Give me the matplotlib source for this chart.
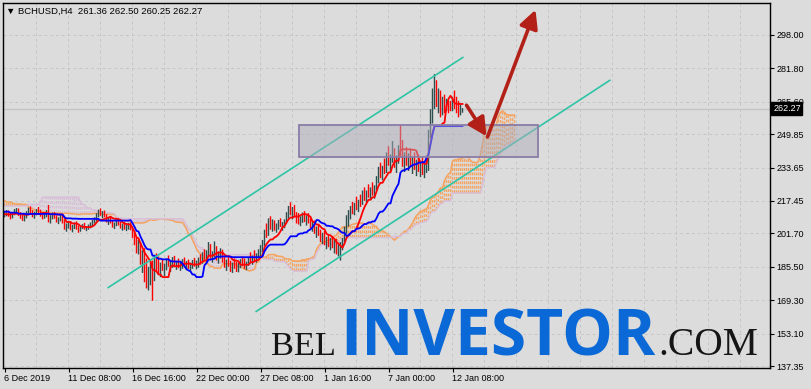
#!/usr/bin/env python
import numpy as np
import pandas as pd
import matplotlib
matplotlib.use('Agg')
from matplotlib import pyplot as plt
from matplotlib.patches import Rectangle, FancyArrowPatch
import matplotlib.transforms as mtransforms

# H4 bars before the visible window (only feed the Ichimoku cloud)
hist_high = [221.0, 217.5, 214.0, 211.5, 209.0, 210.5, 208.0, 206.0, 207.5, 208.5,
             205.5, 203.5, 204.5, 207.0, 210.5, 213.0, 212.5, 210.5, 207.0, 209.5,
             213.5, 216.0, 218.5, 219.0, 217.0, 221.0, 224.0, 221.5, 219.0, 220.5,
             222.0, 219.5, 218.0, 220.0, 222.5, 225.0, 228.0, 230.5, 231.0, 226.5,
             223.0, 224.0, 221.0, 219.0, 220.5, 218.0, 217.0, 218.5, 216.5, 215.5,
             217.0, 215.0, 216.0, 214.5, 216.5, 217.0, 215.0, 213.0, 214.5, 216.0,
             214.0, 212.5, 213.8, 215.0, 213.5, 212.0, 213.5, 214.5, 213.0, 211.5,
             213.0, 214.0, 212.5, 211.8, 213.2, 213.8, 212.5, 211.8]
hist_low = [215.0, 211.5, 208.0, 205.5, 203.5, 205.0, 202.0, 200.5, 202.5, 203.0,
            200.0, 199.5, 199.0, 202.0, 204.5, 207.5, 207.0, 203.5, 200.5, 203.0,
            207.5, 210.5, 212.5, 213.5, 211.0, 214.5, 217.0, 215.0, 213.0, 215.0,
            216.5, 213.5, 212.5, 214.5, 216.5, 219.0, 221.5, 223.0, 221.5, 219.5,
            216.5, 218.0, 214.5, 213.0, 215.0, 212.5, 211.0, 213.0, 211.5, 210.0,
            211.5, 209.5, 211.0, 209.0, 211.0, 212.0, 209.5, 208.0, 209.5, 211.0,
            209.0, 207.5, 208.8, 210.0, 208.5, 207.5, 209.0, 210.0, 208.5, 207.8,
            208.8, 209.5, 208.5, 208.0, 209.0, 209.8, 209.0, 208.5]
hist_close = [216.0, 212.5, 209.5, 207.0, 208.0, 206.0, 203.5, 204.5, 206.5, 204.0,
              201.5, 202.5, 203.5, 206.0, 209.5, 211.0, 208.5, 205.0, 204.0, 208.5,
              212.0, 214.5, 217.0, 214.5, 216.0, 219.5, 218.5, 216.5, 217.5, 219.0,
              217.0, 215.0, 216.5, 218.5, 221.0, 223.5, 226.0, 224.5, 223.0, 220.5,
              221.5, 219.0, 216.0, 217.5, 216.0, 214.0, 215.5, 214.5, 213.0, 214.0,
              212.5, 213.5, 212.0, 213.0, 214.5, 212.5, 210.5, 211.5, 213.5, 211.8,
              210.0, 211.0, 212.5, 211.0, 209.5, 210.8, 212.0, 210.5, 209.0, 210.5,
              211.8, 210.2, 209.5, 210.8, 212.0, 211.0, 210.0, 210.5]

# visible H4 bars, 6 Dec 2019 00:00 onwards
high = [212.5, 213.0, 212.8, 211.5, 211.8, 213.5, 214.0, 213.8, 212.0, 211.0,
        210.5, 212.5, 214.2, 214.8, 213.0, 212.2, 213.5, 214.5, 213.2, 212.0,
        211.5, 213.0, 215.5, 210.5, 211.8, 212.0, 210.5, 209.5, 210.8, 210.2,
        208.5, 206.5, 207.8, 207.5, 205.8, 207.0, 207.5, 205.5, 205.0, 206.2,
        206.8, 205.2, 206.0, 207.0, 208.2, 209.5, 211.5, 213.2, 213.8, 212.5,
        212.8, 211.0, 209.2, 209.8, 208.2, 207.0, 208.5, 209.2, 207.5, 206.2,
        207.2, 205.8, 206.8, 207.0, 205.0, 202.5, 199.8, 198.5, 197.5, 193.5,
        194.5, 189.5, 185.5, 188.0, 188.5, 191.0, 192.0, 190.5, 187.5, 189.0,
        187.0, 189.5, 191.0, 188.5, 190.2, 190.8, 188.5, 189.5, 188.0, 189.2,
        190.0, 188.2, 189.0, 187.5, 188.8, 189.8, 188.5, 190.0, 191.5, 192.5,
        194.0, 193.5, 197.5, 196.5, 193.0, 197.8, 195.5, 193.0, 194.5, 193.8,
        190.5, 189.0, 190.2, 188.5, 187.5, 189.5, 188.0, 187.5, 189.2, 190.5,
        189.5, 188.0, 190.2, 192.5, 191.0, 193.5, 192.0, 194.0, 196.0, 198.5,
        203.5, 206.5, 209.0, 210.0, 208.5, 208.0, 206.5, 208.2, 209.0, 207.2,
        208.5, 212.0, 215.0, 216.8, 214.5, 215.5, 212.0, 211.5, 210.0, 211.8,
        212.5, 210.5, 211.5, 209.0, 207.5, 208.0, 205.0, 206.0, 203.5, 202.0,
        203.0, 200.0, 201.0, 199.5, 200.5, 198.5, 199.0, 196.5, 197.5, 199.5,
        205.0, 210.5, 213.0, 215.0, 217.0, 216.5, 219.5, 218.0, 220.5, 222.5,
        224.0, 222.5, 225.5, 224.0, 226.5, 225.0, 229.5, 234.0, 236.0, 234.5,
        238.0, 241.0, 244.0, 240.0, 246.5, 243.0, 239.5, 244.5, 254.0, 247.0,
        241.0, 243.5, 240.5, 242.5, 239.0, 241.0, 237.5, 240.0, 236.5, 238.5,
        236.0, 239.5, 252.0, 262.0, 272.0, 279.0, 276.0, 272.0, 271.0, 268.0,
        269.0, 267.0, 266.0, 266.0, 268.0, 271.0, 268.0, 266.0, 264.0, 262.50]
low = [209.5, 210.0, 209.8, 208.5, 209.0, 210.5, 211.5, 210.2, 208.8, 207.8,
       207.5, 209.0, 210.8, 211.5, 209.5, 208.8, 210.5, 211.0, 209.8, 208.5,
       208.8, 209.5, 207.0, 206.5, 208.5, 208.8, 207.0, 206.2, 207.5, 206.5,
       203.5, 202.5, 204.0, 203.2, 202.2, 203.8, 203.5, 202.0, 202.5, 203.8,
       203.5, 202.8, 203.5, 204.2, 205.0, 206.5, 207.5, 209.5, 210.2, 209.0,
       209.5, 207.0, 205.8, 206.5, 204.5, 203.8, 205.2, 205.5, 204.0, 203.0,
       203.5, 202.8, 203.5, 203.2, 199.5, 196.0, 192.0, 191.5, 186.5, 182.5,
       178.0, 175.0, 174.0, 176.5, 169.0, 178.5, 183.0, 182.0, 180.5, 183.5,
       181.0, 183.8, 185.5, 183.0, 185.0, 185.5, 184.0, 184.8, 183.5, 184.5,
       185.2, 183.8, 184.5, 183.2, 184.5, 185.5, 184.2, 185.0, 186.5, 187.0,
       189.0, 187.5, 190.5, 189.0, 187.5, 190.0, 188.5, 187.0, 189.5, 187.5,
       185.0, 183.5, 185.5, 183.0, 182.5, 184.5, 183.0, 182.8, 184.8, 185.8,
       184.5, 183.8, 186.0, 187.8, 186.5, 188.0, 187.5, 189.5, 190.5, 192.5,
       195.5, 199.5, 200.5, 203.5, 202.5, 203.0, 202.0, 203.5, 204.8, 203.0,
       204.2, 206.5, 209.0, 210.5, 208.5, 209.5, 206.5, 206.0, 205.2, 206.8,
       207.2, 205.5, 206.5, 204.0, 202.5, 201.5, 199.5, 200.5, 197.5, 196.5,
       196.0, 194.0, 195.0, 193.5, 194.5, 192.0, 191.5, 190.5, 188.5, 193.5,
       197.5, 201.5, 205.0, 208.5, 211.0, 210.5, 213.0, 212.0, 214.5, 215.5,
       217.5, 216.5, 219.0, 218.0, 220.0, 218.5, 222.5, 226.0, 228.5, 227.5,
       230.5, 231.0, 234.5, 231.5, 236.0, 233.5, 231.0, 235.5, 238.5, 234.0,
       231.5, 234.5, 232.0, 234.0, 230.5, 232.5, 229.5, 231.5, 229.0, 230.0,
       228.5, 231.0, 232.0, 248.0, 255.0, 262.0, 263.0, 260.0, 258.0, 259.0,
       260.0, 261.0, 260.0, 261.0, 261.0, 262.0, 260.0, 258.0, 259.0, 260.25]
close = [211.0, 212.2, 210.5, 209.5, 211.2, 212.8, 213.0, 211.0, 209.8, 208.5,
         209.8, 211.8, 213.5, 212.0, 210.2, 211.5, 212.8, 211.8, 210.5, 209.2,
         210.8, 212.5, 208.0, 209.5, 210.8, 209.2, 207.8, 208.8, 209.8, 207.0,
         204.5, 205.8, 206.5, 204.0, 205.2, 206.2, 204.2, 203.5, 204.8, 205.5,
         204.0, 204.5, 205.5, 206.5, 207.8, 208.8, 210.8, 212.5, 211.2, 211.8,
         210.0, 207.8, 208.5, 207.0, 205.2, 206.5, 207.8, 206.2, 204.8, 205.8,
         204.2, 205.0, 206.0, 204.0, 200.5, 197.5, 194.0, 196.5, 188.0, 191.0,
         183.5, 177.5, 182.0, 185.0, 180.0, 188.0, 186.0, 184.0, 186.5, 184.5,
         185.8, 188.5, 186.2, 187.5, 188.8, 186.5, 187.2, 185.5, 186.8, 188.0,
         186.0, 187.0, 185.2, 186.5, 187.8, 186.8, 187.5, 189.2, 188.0, 191.5,
         190.2, 192.8, 195.0, 190.5, 191.8, 193.0, 189.5, 191.5, 192.8, 188.5,
         186.0, 187.5, 186.0, 185.2, 186.8, 185.5, 184.5, 186.5, 188.2, 187.0,
         185.8, 187.5, 189.8, 188.5, 190.5, 189.2, 191.5, 193.0, 194.5, 197.5,
         202.0, 201.0, 207.5, 205.0, 207.0, 204.2, 205.8, 207.2, 205.5, 206.5,
         207.8, 211.0, 213.8, 211.5, 213.0, 210.2, 209.5, 207.0, 209.0, 210.5,
         208.0, 209.2, 207.2, 205.0, 206.0, 202.5, 203.8, 201.2, 199.0, 200.5,
         197.2, 198.5, 196.0, 197.0, 195.5, 196.8, 193.0, 194.5, 196.0, 198.5,
         203.5, 207.5, 209.0, 213.5, 212.5, 215.5, 214.0, 216.8, 215.5, 220.0,
         219.0, 221.5, 220.5, 222.8, 221.5, 224.0, 228.0, 232.0, 230.0, 233.5,
         231.5, 238.5, 236.0, 238.8, 239.5, 235.0, 237.5, 242.5, 240.0, 236.0,
         238.0, 236.5, 238.5, 235.0, 236.8, 233.5, 235.5, 232.5, 234.5, 231.5,
         234.0, 237.5, 250.0, 258.0, 268.0, 274.0, 266.0, 270.0, 262.0, 266.0,
         264.0, 265.0, 264.0, 262.0, 266.0, 264.0, 262.0, 261.0, 261.36, 262.27]

date_ticks = [0, 32, 64, 96, 128, 160, 192, 224]
date_labels = ['6 Dec 2019', '11 Dec 08:00', '16 Dec 16:00', '22 Dec 00:00',
               '27 Dec 08:00', '1 Jan 16:00', '7 Jan 00:00', '12 Jan 08:00']
price_ticks = [137.35, 153.10, 169.30, 185.50, 201.70, 217.45,
               233.65, 249.85, 265.60, 281.80, 298.00]

# drawn objects (bar index, price)
channel_upper = ([51.5, 229.5], [175.2, 287.3])
channel_lower = ([125.5, 303.0], [163.6, 276.2])
zone_x = (147.0, 266.5)
zone_y = (238.8, 254.3)
arrow_down = ((231.0, 263.9), (241.0, 248.8))
arrow_up = ((241.5, 248.5), (265.5, 310.2))

BG = '#dcdcdc'
W, H = 811, 389
BULL = '#2f4f4f'
BEAR = '#ff0000'

# --- Ichimoku (9, 26, 52) from the bars
n_hist = len(hist_high)
hi = pd.Series(hist_high + high)
lo = pd.Series(hist_low + low)
x_all = np.arange(len(hi)) - n_hist

tenkan = (hi.rolling(9).max() + lo.rolling(9).min()) / 2
kijun = (hi.rolling(26).max() + lo.rolling(26).min()) / 2
span_a = ((tenkan + kijun) / 2).values
span_b = ((hi.rolling(52).max() + lo.rolling(52).min()) / 2).values
x_span = x_all + 26

fig = plt.figure(figsize=(W / 100, H / 100), dpi=100)
fig.patch.set_facecolor(BG)
ax = fig.add_axes([3 / W, (H - 368) / H, 767 / W, 365 / H])
ax.set_facecolor(BG)
# 2 px per bar, bars centred on pixel columns
ax.set_xlim(-0.75, 382.75)
ax.set_ylim(136.38, 313.5)

# grid
ax.set_axisbelow(True)
ax.set_xticks(np.arange(15.5, 383, 16), minor=True)
ax.grid(True, which='minor', axis='x', color='#c6c6c6', lw=0.7, ls=(0, (3, 3)))
ax.grid(True, which='major', axis='y', color='#c6c6c6', lw=0.7, ls=(0, (3, 3)))
ax.tick_params(which='minor', length=0)

# bid line
ax.axhline(close[-1], color='#c4c4c4', lw=0.9, zorder=1)

# cloud hatch
ok = ~(np.isnan(span_a) | np.isnan(span_b))
xs, a, b = x_span[ok], span_a[ok], span_b[ok]
cols = np.where(a >= b, '#f4a460', '#d8bfd8')
ax.vlines(xs, np.minimum(a, b), np.maximum(a, b), colors=cols, lw=1.0,
          linestyles=(0, (2.0, 1.2)), zorder=1.5, snap=False)
ax.plot(xs, a, color='#f4a460', lw=1.1, zorder=1.6)
ax.plot(xs, b, color='#d8bfd8', lw=1.1, zorder=1.6)

# bars (high-low lines, coloured by open/close)
xb = np.arange(len(close))
op = np.array([hist_close[-1]] + close[:-1])
cv = np.array(close)
bar_cols = np.where(cv >= op, BULL, BEAR)
ax.vlines(xb, low, high, colors=bar_cols, lw=1.0, zorder=2, snap=False)

# tenkan / kijun
ax.plot(x_all, tenkan, color='#ff0000', lw=1.3, zorder=2.5)
ax.plot(x_all, kijun, color='#0000ff', lw=1.3, zorder=2.5)

# channel
for cx, cy in (channel_upper, channel_lower):
    ax.plot(cx, cy, color='#2ec4a6', lw=1.2, zorder=3, solid_capstyle='butt')

# zone rectangle
ax.add_patch(Rectangle((zone_x[0], zone_y[0]), zone_x[1] - zone_x[0], zone_y[1] - zone_y[0],
                       facecolor=(0.68, 0.68, 0.73, 0.5), edgecolor='#8a7ca6', lw=1.3, zorder=4))

# arrows
for tail, tip in (arrow_down, arrow_up):
    ax.add_patch(FancyArrowPatch(tail, tip, arrowstyle='-|>,head_length=0.55,head_width=0.28',
                                 mutation_scale=20, color='#b22018', lw=2.6,
                                 shrinkA=0, shrinkB=0, zorder=5))

# axes styling
for s in ax.spines.values():
    s.set_color('black')
    s.set_linewidth(1.0)
ax.yaxis.tick_right()
ax.set_yticks(price_ticks)
ax.set_yticklabels([f'{p:.2f}' for p in price_ticks])
ax.set_xticks(date_ticks)
ax.set_xticklabels(date_labels, ha='left')
ax.tick_params(axis='both', which='major', length=3, width=0.8, colors='black',
               labelsize=6.5, pad=1.5)
for t in ax.get_xticklabels() + ax.get_yticklabels():
    t.set_family('Liberation Sans')

# current price label
trans = mtransforms.blended_transform_factory(ax.transAxes, ax.transData)
ax.text(1.004, close[-1], f'{close[-1]:.2f}', transform=trans, ha='left', va='center',
        fontsize=6.5, family='Liberation Sans', color='white', clip_on=False, zorder=6,
        bbox=dict(boxstyle='square,pad=0.2', facecolor='black', edgecolor='black'))

# header
fig.text(6 / W, 1 - 11 / H,
         f'\u25BC BCHUSD,H4  {op[-1]:.2f} {high[-1]:.2f} {low[-1]:.2f} {close[-1]:.2f}',
         fontsize=6.8, family='Liberation Sans', va='center', ha='left')

# watermark, each word sized to its width in the reference
renderer = fig.canvas.get_renderer()
base = (H - 355) / H


def watermark(x_px, width_px, word, size, **kw):
    t = fig.text(x_px / W, base, word, fontsize=size, va='baseline', ha='left', **kw)
    w = t.get_window_extent(renderer).width
    t.set_fontsize(size * width_px / w)
    return t


watermark(271, 65, 'BEL', 30, family='Liberation Serif', color='#151515')
watermark(340, 316, 'INVESTOR', 44, family='Open Sans', weight='bold', color='#0a69d6')
watermark(658, 100, '.COM', 30, family='Liberation Serif', color='#151515')

fig.savefig('out.png', dpi=100, facecolor=fig.get_facecolor())
plt.close(fig)
